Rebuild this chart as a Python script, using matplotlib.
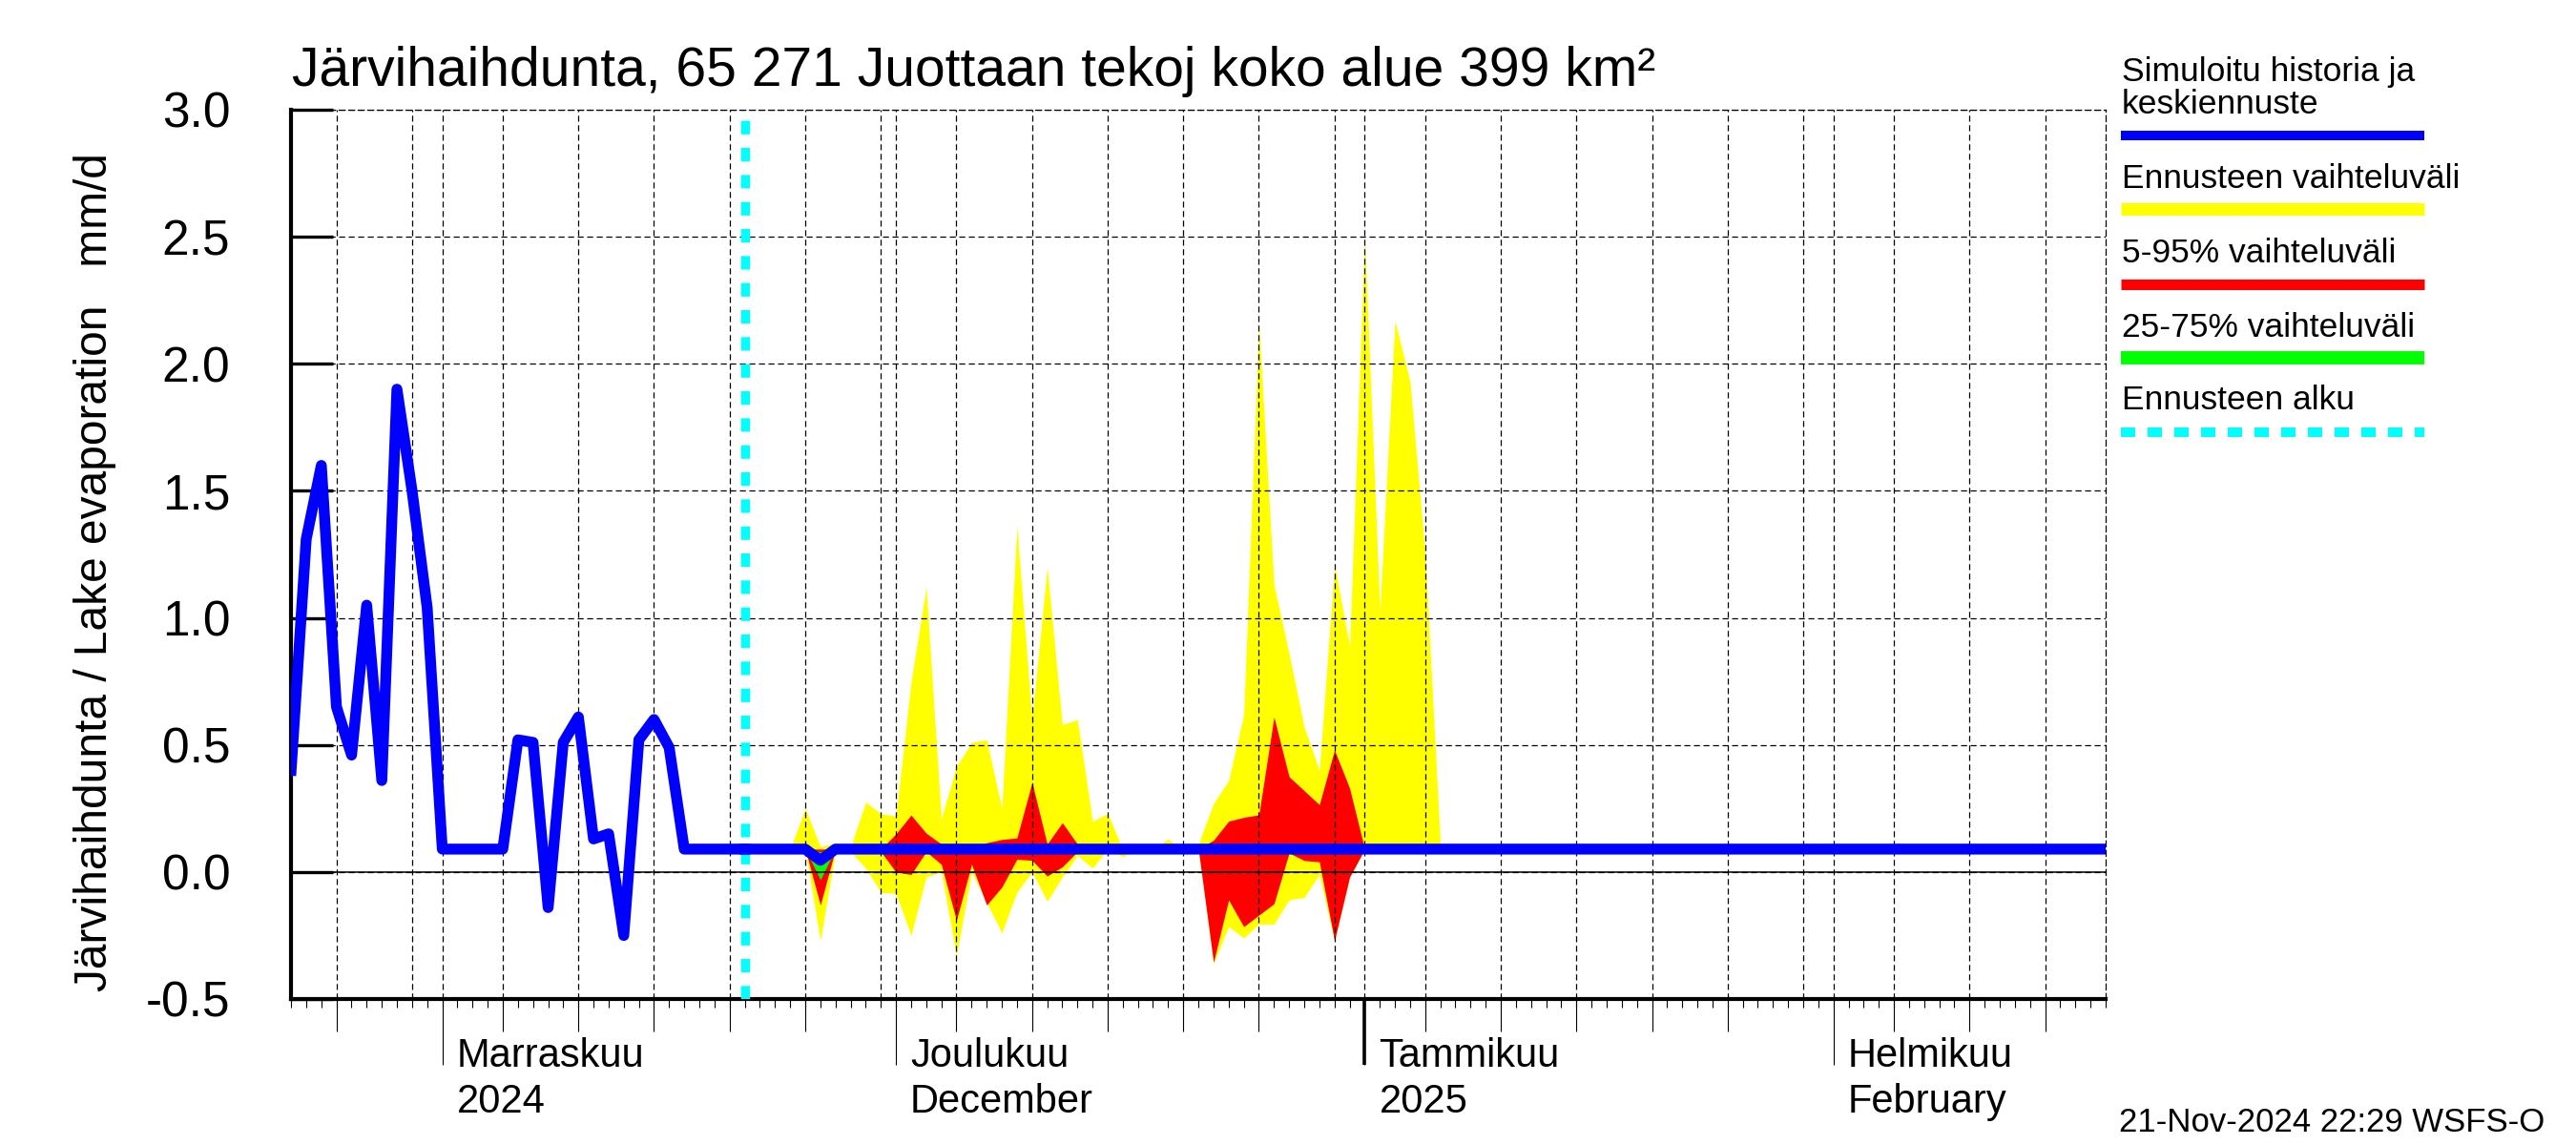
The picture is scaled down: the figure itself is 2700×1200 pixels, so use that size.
import numpy as np
import matplotlib
matplotlib.use('Agg')
import matplotlib.pyplot as plt
import matplotlib.dates as mdates
import matplotlib.transforms as mtransforms
from matplotlib.ticker import NullFormatter, FormatStrFormatter
from matplotlib.lines import Line2D

plt.rcParams['font.family'] = ['Liberation Sans', 'DejaVu Sans']

# aikajana: päivät alkaen 22.10.2024
base = np.datetime64('2024-10-22')
x_end = np.datetime64('2025-02-19')
forecast_start = np.datetime64('2024-11-21')

# simuloitu historia (päivät 0..30)
hist_days = list(range(0, 31))
hist_vals = [0.40, 1.31, 1.60, 0.65, 0.46, 1.05, 0.36, 1.90, 1.50, 1.04,
             0.09, 0.09, 0.09, 0.09, 0.09, 0.52, 0.51, -0.14, 0.51, 0.61,
             0.13, 0.15, -0.25, 0.52, 0.60, 0.49, 0.09, 0.09, 0.09, 0.09,
             0.09]

# keskiennuste (taitepisteet)
mean_days = [30, 34, 35, 36, 120]
mean_vals = [0.09, 0.09, 0.046, 0.09, 0.09]

# ennusteen vaihteluvälit, päivät 33..77
band_days = list(range(33, 78))
yellow_hi = [0.09, 0.25, 0.10, 0.115, 0.10, 0.275, 0.23, 0.22, 0.75, 1.12,
             0.21, 0.415, 0.51, 0.52, 0.25, 1.36, 0.60, 1.20, 0.58, 0.60,
             0.20, 0.23, 0.09, 0.09, 0.09, 0.13, 0.09, 0.11, 0.27, 0.36,
             0.62, 2.16, 1.13, 0.86, 0.57, 0.40, 1.21, 0.89, 2.50, 1.03,
             2.17, 1.93, 1.25, 0.11, 0.09]
yellow_lo = [0.09, 0.09, -0.27, 0.08, 0.08, 0.015, -0.08, -0.085, -0.25, -0.02,
             0.00, -0.33, 0.00, -0.12, -0.24, -0.08, 0.00, -0.115, -0.02, 0.065,
             0.015, 0.09, 0.06, 0.09, 0.09, 0.09, 0.09, 0.09, -0.36, -0.215,
             -0.26, -0.205, -0.205, -0.11, -0.10, -0.01, -0.27, -0.02, 0.09, 0.09,
             0.09, 0.09, 0.09, 0.09, 0.09]
red_hi = [0.09, 0.09, 0.09, 0.09, 0.09, 0.09, 0.09, 0.15, 0.224, 0.153,
          0.11, 0.09, 0.09, 0.115, 0.128, 0.134, 0.353, 0.11, 0.194, 0.11,
          0.09, 0.09, 0.09, 0.09, 0.09, 0.09, 0.09, 0.09, 0.125, 0.20,
          0.215, 0.225, 0.61, 0.375, 0.32, 0.265, 0.48, 0.33, 0.09, 0.09,
          0.09, 0.09, 0.09, 0.09, 0.09]
red_lo = [0.09, 0.09, -0.13, 0.09, 0.09, 0.09, 0.08, 0.00, -0.01, 0.08,
          0.03, -0.19, 0.03, -0.13, -0.06, 0.05, 0.046, -0.016, 0.02, 0.08,
          0.09, 0.09, 0.09, 0.09, 0.09, 0.09, 0.09, 0.09, -0.355, -0.11,
          -0.215, -0.17, -0.125, 0.075, 0.045, 0.04, -0.27, -0.02, 0.09, 0.09,
          0.09, 0.09, 0.09, 0.09, 0.09]
green_days = [34, 35, 36]
green_hi = [0.09, 0.08, 0.09]
green_lo = [0.09, -0.03, 0.09]

yticks = [-0.5, 0.0, 0.5, 1.0, 1.5, 2.0, 2.5, 3.0]
month_top = ['Marraskuu', 'Joulukuu', 'Tammikuu', 'Helmikuu']
month_bottom = ['2024', 'December', '2025', 'February']
month_dates = [np.datetime64('2024-11-01'), np.datetime64('2024-12-01'),
               np.datetime64('2025-01-01'), np.datetime64('2025-02-01')]

title = 'Järvihaihdunta, 65 271 Juottaan tekoj koko alue 399 km²'
ylabel = 'Järvihaihdunta / Lake evaporation   mm/d'
legend_labels = ['Simuloitu historia ja\nkeskiennuste', 'Ennusteen vaihteluväli',
                 '5-95% vaihteluväli', '25-75% vaihteluväli', 'Ennusteen alku']
stamp = '21-Nov-2024 22:29 WSFS-O'

BLUE, YELLOW, RED, GREEN, CYAN = '#0000ff', '#ffff00', '#ff0000', '#00ff00', '#00ffff'

# kuva
fig = plt.figure(figsize=(27, 12), dpi=100)
ax = fig.add_axes([0.113, 0.1275, 0.7044, 0.7767])

bx = base + np.array(band_days)
ax.fill_between(bx, yellow_lo, yellow_hi, color=YELLOW, lw=0, zorder=1)
ax.fill_between(bx, red_lo, red_hi, color=RED, lw=0, zorder=1.1)
ax.fill_between(base + np.array(green_days), green_lo, green_hi, color=GREEN, lw=0, zorder=1.2)

ax.axhline(0, color='black', lw=1.1, zorder=2.6)
ax.axvline(forecast_start, color=CYAN, lw=6.8, linestyle=(0, (1.5, 1.5)), zorder=3)
ax.plot(base + np.array(hist_days), hist_vals, color=BLUE, lw=8.2,
        solid_joinstyle='round', zorder=4)
ax.plot(base + np.array(mean_days), mean_vals, color=BLUE, lw=8.2,
        solid_joinstyle='round', zorder=4)

ax.set_xlim(base, x_end)
ax.set_ylim(-0.5, 3.0)

# ruudukko
grid_style = dict(color='black', lw=0.9, linestyle=(0, (5, 3)))
ax.set_axisbelow(False)
ax.xaxis.set_major_locator(mdates.DayLocator(bymonthday=[1, 5, 10, 15, 20, 25, 30]))
ax.xaxis.set_minor_locator(mdates.DayLocator())
ax.xaxis.set_major_formatter(NullFormatter())
ax.grid(axis='x', which='major', **grid_style)
ax.grid(axis='y', which='major', **grid_style)
ax.tick_params(axis='x', which='both', direction='out', length=6.5, width=0.8)

sec5 = ax.secondary_xaxis('bottom')
sec5.xaxis.set_major_locator(mdates.DayLocator(bymonthday=[5, 10, 15, 20, 25]))
sec5.xaxis.set_major_formatter(NullFormatter())
sec5.tick_params(direction='out', length=24.5, width=0.8)
sec5.spines['bottom'].set_visible(False)

secm = ax.secondary_xaxis('bottom')
secm.xaxis.set_major_locator(mdates.MonthLocator())
secm.xaxis.set_major_formatter(NullFormatter())
secm.tick_params(direction='out', length=50, width=0.8)
secm.spines['bottom'].set_visible(False)

secy = ax.secondary_xaxis('bottom')
secy.xaxis.set_major_locator(mdates.YearLocator())
secy.xaxis.set_major_formatter(NullFormatter())
secy.tick_params(direction='out', length=50, width=2.6)
secy.spines['bottom'].set_visible(False)

ax.set_yticks(yticks)
ax.yaxis.set_major_formatter(FormatStrFormatter('%.1f'))
ax.tick_params(axis='y', direction='in', length=32, width=2.4, pad=46, labelsize=37)

for s in ['left', 'bottom']:
    ax.spines[s].set_linewidth(3)
for s in ['top', 'right']:
    ax.spines[s].set_linewidth(0.9)
    ax.spines[s].set_linestyle((0, (5, 3)))

# kuukausien nimet
blend = mtransforms.blended_transform_factory(ax.transData, ax.transAxes)
for d, top, bot in zip(month_dates, month_top, month_bottom):
    t1 = blend + mtransforms.ScaledTranslation(0.15, -0.71, fig.dpi_scale_trans)
    t2 = blend + mtransforms.ScaledTranslation(0.15, -1.19, fig.dpi_scale_trans)
    ax.text(d, 0, top, transform=t1, fontsize=30, ha='left', va='baseline')
    ax.text(d, 0, bot, transform=t2, fontsize=30, ha='left', va='baseline')

fig.text(306 / 2700, 1 - 89.5 / 1200, title, fontsize=41, ha='left', va='baseline')
fig.text(100 / 2700, 1 - 600 / 1200, ylabel, fontsize=34.5, rotation=90,
         ha='center', va='center')

# selite
lx0, lx1 = 2223 / 2700, 2541 / 2700
text_y = [85, 197, 275, 353, 429]
bar_y = [142, 219.5, 297.5, 375, 453]
bar_col = [BLUE, YELLOW, RED, GREEN, CYAN]
bar_lw = [7.2, 9.4, 8.0, 10.0, 7.2]
for lab, ty, by, c, w in zip(legend_labels, text_y, bar_y, bar_col, bar_lw):
    lines = lab.split('\n')
    for i, ln in enumerate(lines):
        fig.text(2224 / 2700, 1 - (ty + 34 * i) / 1200, ln, fontsize=25.5,
                 ha='left', va='baseline')
    ls = (0, (1.5, 1.3)) if c == CYAN else '-'
    fig.add_artist(Line2D([lx0, lx1], [1 - by / 1200] * 2, color=c, lw=w,
                          linestyle=ls, solid_capstyle='butt', dash_capstyle='butt',
                          transform=fig.transFigure))

fig.text(2221 / 2700, 1 - 1176 / 1200, stamp, fontsize=25, ha='left', va='center')

fig.savefig('out.png', dpi=100)
